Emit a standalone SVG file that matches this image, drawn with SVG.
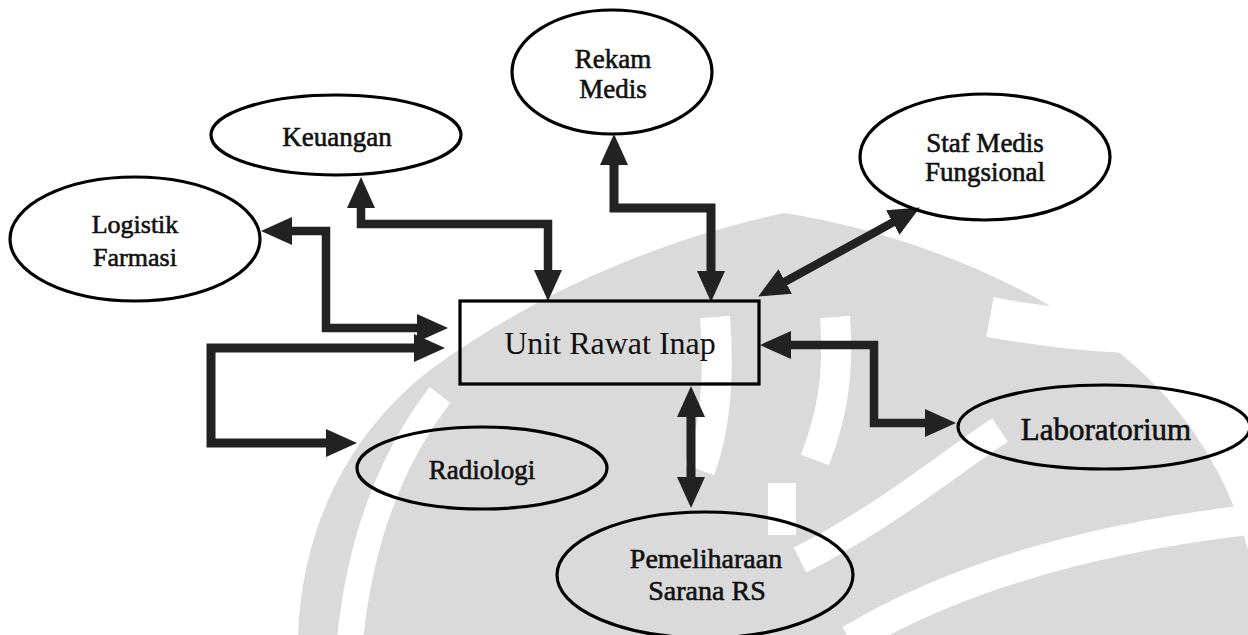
<svg xmlns="http://www.w3.org/2000/svg" width="1248" height="635" viewBox="0 0 1248 635">
<style>
.node{fill:none;stroke:#000;stroke-width:3.2}
.lbl{font-family:"Liberation Serif","Times New Roman",serif;font-size:27px;fill:#111;stroke:#111;stroke-width:0.6;text-anchor:middle}
.main{font-family:"Liberation Serif","Times New Roman",serif;font-size:32px;fill:#111;text-anchor:middle}
.conn{fill:none;stroke:#222;stroke-width:8.5;stroke-linejoin:miter}
.wm{fill:#dadada}
.band{fill:none;stroke:#fff}
</style>
<defs>
<marker id="ah" viewBox="0 0 31 28" markerWidth="31" markerHeight="28" refX="10" refY="14" orient="auto-start-reverse" markerUnits="userSpaceOnUse">
<path d="M0,0 L31,14 L0,28 z" fill="#222"/>
</marker>
</defs>
<rect width="1248" height="635" fill="#fff"/>
<g id="watermark">
<path class="wm" d="M784,213 C900,230 1060,290 1150,380 C1230,460 1260,560 1260,640 L298,640 C300,540 340,440 430,370 C540,290 660,240 784,213 z"/>
<path class="band" stroke-width="26" d="M440,395 C390,460 360,540 350,640"/>
<path class="band" stroke-width="30" d="M715,317 C720,380 715,430 700,470"/>
<path class="band" stroke-width="30" d="M835,317 C840,380 830,420 815,460"/>
<path class="band" stroke-width="28" d="M782,483 V535"/>
<path class="band" stroke-width="28" d="M800,560 C880,520 940,470 1000,430"/>
<path class="band" stroke-width="30" d="M850,640 C950,580 1080,540 1248,520"/>
<path class="band" stroke-width="40" d="M990,317 C1060,330 1150,340 1248,330"/>
</g>
<g id="connectors">
<path class="conn" d="M361,198 V224 H548 V280" marker-start="url(#ah)" marker-end="url(#ah)"/>
<path class="conn" style="stroke-width:9" d="M614,155 V208 H711 V281" marker-start="url(#ah)" marker-end="url(#ah)"/>
<path class="conn" d="M776.5,286.4 L901.5,217.6" marker-start="url(#ah)" marker-end="url(#ah)"/>
<path class="conn" d="M282,231 H326 V328 H427" marker-start="url(#ah)" marker-end="url(#ah)"/>
<path class="conn" style="stroke-width:9" d="M424,348 H211 V443 H336" marker-start="url(#ah)" marker-end="url(#ah)"/>
<path class="conn" d="M781,345 H874 V423 H935" marker-start="url(#ah)" marker-end="url(#ah)"/>
<path class="conn" style="stroke-width:9" d="M691,407 V487" marker-start="url(#ah)" marker-end="url(#ah)"/>
</g>
<g id="unit-rawat-inap">
<rect class="node" x="460" y="301" width="299" height="83"/>
<text class="main" x="610" y="354">Unit Rawat Inap</text>
</g>
<g id="rekam-medis">
<ellipse class="node" cx="612" cy="72" rx="100" ry="62"/>
<text class="lbl" x="613" y="68">Rekam</text>
<text class="lbl" x="613" y="98">Medis</text>
</g>
<g id="keuangan">
<ellipse class="node" cx="336" cy="135" rx="125" ry="40"/>
<text class="lbl" x="337" y="146">Keuangan</text>
</g>
<g id="logistik-farmasi">
<ellipse class="node" cx="135" cy="239" rx="125" ry="62"/>
<text class="lbl" style="font-size:26px" x="135" y="233">Logistik</text>
<text class="lbl" style="font-size:26px" x="135" y="266">Farmasi</text>
</g>
<g id="staf-medis-fungsional">
<ellipse class="node" cx="985" cy="157" rx="125" ry="63"/>
<text class="lbl" x="985" y="152">Staf Medis</text>
<text class="lbl" x="985" y="181">Fungsional</text>
</g>
<g id="laboratorium">
<ellipse class="node" cx="1104" cy="427" rx="146" ry="42"/>
<text class="lbl" style="font-size:31px" x="1106" y="440">Laboratorium</text>
</g>
<g id="radiologi">
<ellipse class="node" cx="482" cy="468" rx="125" ry="41"/>
<text class="lbl" x="482" y="479">Radiologi</text>
</g>
<g id="pemeliharaan-sarana-rs">
<ellipse class="node" cx="705" cy="575" rx="148" ry="63"/>
<text class="lbl" style="font-size:28px" x="706" y="568">Pemeliharaan</text>
<text class="lbl" style="font-size:28px" x="707" y="600">Sarana RS</text>
</g>
</svg>
